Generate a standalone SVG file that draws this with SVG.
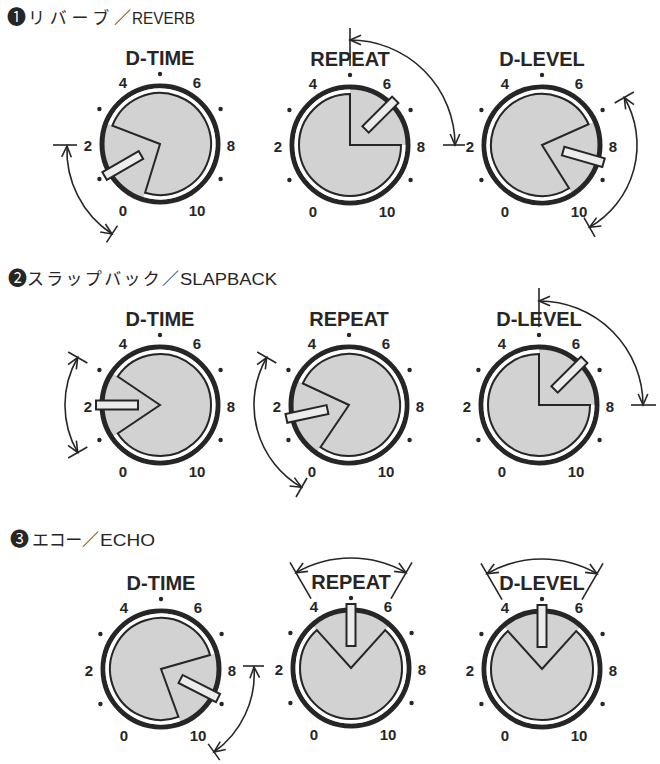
<svg xmlns="http://www.w3.org/2000/svg" width="660" height="764" viewBox="0 0 660 764">
<style>
.ring{fill:#d2d2d2;stroke:#262626;stroke-width:5}
.gap{fill:none;stroke:#fff;stroke-width:3.5}
.cap{fill:#d2d2d2;stroke:#262626;stroke-width:2;stroke-linejoin:miter}
.ptr{fill:#ececec;stroke:#262626;stroke-width:2}
.dot{fill:#262626}
.name{font-family:"Liberation Sans",Arial,sans-serif;font-weight:bold;font-size:20px;text-anchor:middle;fill:#262626}
.num{font-family:"Liberation Sans",Arial,sans-serif;font-weight:bold;font-size:15px;text-anchor:middle;fill:#262626}
.title{font-family:"Liberation Sans",Arial,"Noto Sans CJK JP",sans-serif;font-size:16px;fill:#262626}
.jp{font-family:"Noto Sans CJK JP",sans-serif;font-size:17px}
.circ{font-family:"Noto Sans CJK JP","DejaVu Sans",sans-serif;font-size:19px}
.conn path,.conn line{fill:none;stroke:#262626;stroke-width:1.6}
.conn .arc{marker-start:url(#ah);marker-end:url(#ah)}
</style>
<defs>
<marker id="ah" markerUnits="userSpaceOnUse" markerWidth="16" markerHeight="16" viewBox="-13 -8 16 16" refX="0" refY="0" orient="auto-start-reverse" overflow="visible">
<path d="M-11,-4.8 L0,0 L-11,4.8" fill="none" stroke="#262626" stroke-width="1.6"/>
</marker>
</defs>
<rect width="660" height="764" fill="#fff"/>

<g id="titles">
<text class="title" y="24"><tspan class="circ" x="7">❶</tspan><tspan class="jp" x="28" textLength="103" lengthAdjust="spacing">リバーブ／</tspan><tspan x="132" textLength="63" lengthAdjust="spacingAndGlyphs">REVERB</tspan></text>
<text class="title" y="285"><tspan class="circ" x="8">❷</tspan><tspan class="jp" x="27" textLength="152" lengthAdjust="spacing">スラップバック／</tspan><tspan x="180" textLength="97" lengthAdjust="spacingAndGlyphs">SLAPBACK</tspan></text>
<text class="title" y="546"><tspan class="circ" x="10">❸</tspan><tspan class="jp" x="32" textLength="67" lengthAdjust="spacing">エコー／</tspan><tspan x="100" textLength="55" lengthAdjust="spacingAndGlyphs">ECHO</tspan></text>
</g>

<g id="connectors" class="conn">
<!-- row 1 -->
<line x1="53" y1="145" x2="77" y2="145"/>
<path class="arc" d="M67,146 A100 100 0 0 0 112,234"/>
<line x1="106.5" y1="242.4" x2="117.5" y2="225.6"/>
<line x1="350" y1="28" x2="350" y2="66"/>
<path class="arc" d="M350,40 A105 105 0 0 1 455,145"/>
<line x1="443" y1="145" x2="465" y2="145"/>
<line x1="614.7" y1="103" x2="633.8" y2="92"/>
<path class="arc" d="M624.3,97.5 A95 95 0 0 1 589.5,227.3"/>
<line x1="584" y1="217.7" x2="595" y2="236.8"/>
<!-- row 2 -->
<line x1="87.3" y1="363" x2="68.2" y2="352"/>
<path class="arc" d="M77.7,357.5 A95 95 0 0 0 77.7,452.5"/>
<line x1="87.3" y1="447" x2="68.2" y2="458"/>
<line x1="276.3" y1="363" x2="257.2" y2="352"/>
<path class="arc" d="M266.7,357.5 A95 95 0 0 0 301.5,487.3"/>
<line x1="307" y1="478" x2="296" y2="497"/>
<line x1="539" y1="288" x2="539" y2="327"/>
<path class="arc" d="M539,301 A104 104 0 0 1 643,405"/>
<line x1="631" y1="405" x2="656" y2="405"/>
<!-- row 3 -->
<line x1="243" y1="666" x2="264" y2="666"/>
<path class="arc" d="M254,667 A96 96 0 0 1 214,752"/>
<line x1="208.2" y1="743.9" x2="219.8" y2="760.1"/>
<line x1="311" y1="598.7" x2="290" y2="562.3"/>
<path class="arc" d="M296,572.7 A110 110 0 0 1 406,572.7"/>
<line x1="391" y1="598.7" x2="412" y2="562.3"/>
<line x1="502" y1="599.7" x2="481" y2="563.3"/>
<path class="arc" d="M487,573.7 A110 110 0 0 1 597,573.7"/>
<line x1="582" y1="599.7" x2="603" y2="563.3"/>
</g>

<!-- ROW 1 -->
<g id="r1-dtime" transform="translate(160,144)">
<circle class="ring" r="58"/>
<path class="gap" d="M-50.18,-19.27 A53.75 53.75 0 1 1 -15.72,51.40"/>
<path class="cap" d="M0,0 L-47.61,-18.28 A51 51 0 1 1 -14.91,48.77 Z"/>
<rect class="ptr" x="-4.5" y="-64" width="9" height="42" transform="rotate(-120)"/>
<circle class="dot" cx="0" cy="-70" r="2.2"/><circle class="dot" cx="-60.6" cy="-35" r="2.2"/><circle class="dot" cx="60.6" cy="-35" r="2.2"/><circle class="dot" cx="-60.6" cy="35" r="2.2"/><circle class="dot" cx="60.6" cy="35" r="2.2"/>
<text class="name" x="0" y="-79">D-TIME</text>
<text class="num" x="-37" y="-56">4</text><text class="num" x="37" y="-56">6</text><text class="num" x="-72" y="7">2</text><text class="num" x="71" y="7">8</text><text class="num" x="-37" y="72">0</text><text class="num" x="37" y="72">10</text>
</g>

<g id="r1-repeat" transform="translate(350,145)">
<circle class="ring" r="58"/>
<path class="gap" d="M53.75,0 A53.75 53.75 0 1 1 0,-53.75"/>
<path class="cap" d="M0,0 L51,0 A51 51 0 1 1 0,-51 Z"/>
<rect class="ptr" x="-4.5" y="-64" width="9" height="42" transform="rotate(45)"/>
<circle class="dot" cx="0" cy="-70" r="2.2"/><circle class="dot" cx="-60.6" cy="-35" r="2.2"/><circle class="dot" cx="60.6" cy="-35" r="2.2"/><circle class="dot" cx="-60.6" cy="35" r="2.2"/><circle class="dot" cx="60.6" cy="35" r="2.2"/>
<text class="name" x="0" y="-79">REPEAT</text>
<text class="num" x="-37" y="-56">4</text><text class="num" x="37" y="-56">6</text><text class="num" x="-72" y="7">2</text><text class="num" x="71" y="7">8</text><text class="num" x="-37" y="72">0</text><text class="num" x="37" y="72">10</text>
</g>

<g id="r1-dlevel" transform="translate(542,145)">
<circle class="ring" r="58"/>
<path class="gap" d="M28.49,45.58 A53.75 53.75 0 1 1 49.10,-21.86"/>
<path class="cap" d="M0,0 L27.03,43.25 A51 51 0 1 1 46.59,-20.74 Z"/>
<rect class="ptr" x="-4.5" y="-64" width="9" height="42" transform="rotate(106)"/>
<circle class="dot" cx="0" cy="-70" r="2.2"/><circle class="dot" cx="-60.6" cy="-35" r="2.2"/><circle class="dot" cx="60.6" cy="-35" r="2.2"/><circle class="dot" cx="-60.6" cy="35" r="2.2"/><circle class="dot" cx="60.6" cy="35" r="2.2"/>
<text class="name" x="0" y="-79">D-LEVEL</text>
<text class="num" x="-37" y="-56">4</text><text class="num" x="37" y="-56">6</text><text class="num" x="-72" y="7">2</text><text class="num" x="71" y="7">8</text><text class="num" x="-37" y="72">0</text><text class="num" x="37" y="72">10</text>
</g>

<!-- ROW 2 -->
<g id="r2-dtime" transform="translate(160,405)">
<circle class="ring" r="58"/>
<path class="gap" d="M-44.56,-30.06 A53.75 53.75 0 1 1 -44.56,30.06"/>
<path class="cap" d="M0,0 L-42.28,-28.52 A51 51 0 1 1 -42.28,28.52 Z"/>
<rect class="ptr" x="-4.5" y="-64" width="9" height="42" transform="rotate(-90)"/>
<circle class="dot" cx="0" cy="-70" r="2.2"/><circle class="dot" cx="-60.6" cy="-35" r="2.2"/><circle class="dot" cx="60.6" cy="-35" r="2.2"/><circle class="dot" cx="-60.6" cy="35" r="2.2"/><circle class="dot" cx="60.6" cy="35" r="2.2"/>
<text class="name" x="0" y="-79">D-TIME</text>
<text class="num" x="-37" y="-56">4</text><text class="num" x="37" y="-56">6</text><text class="num" x="-72" y="7">2</text><text class="num" x="71" y="7">8</text><text class="num" x="-37" y="72">0</text><text class="num" x="37" y="72">10</text>
</g>

<g id="r2-repeat" transform="translate(349,405)">
<circle class="ring" r="58"/>
<path class="gap" d="M-48.71,-22.71 A53.75 53.75 0 1 1 -30.06,44.56"/>
<path class="cap" d="M0,0 L-46.22,-21.55 A51 51 0 1 1 -28.52,42.28 Z"/>
<rect class="ptr" x="-4.5" y="-64" width="9" height="42" transform="rotate(-102)"/>
<circle class="dot" cx="0" cy="-70" r="2.2"/><circle class="dot" cx="-60.6" cy="-35" r="2.2"/><circle class="dot" cx="60.6" cy="-35" r="2.2"/><circle class="dot" cx="-60.6" cy="35" r="2.2"/><circle class="dot" cx="60.6" cy="35" r="2.2"/>
<text class="name" x="0" y="-79">REPEAT</text>
<text class="num" x="-37" y="-56">4</text><text class="num" x="37" y="-56">6</text><text class="num" x="-72" y="7">2</text><text class="num" x="71" y="7">8</text><text class="num" x="-37" y="72">0</text><text class="num" x="37" y="72">10</text>
</g>

<g id="r2-dlevel" transform="translate(539,405)">
<circle class="ring" r="58"/>
<path class="gap" d="M53.75,0 A53.75 53.75 0 1 1 0,-53.75"/>
<path class="cap" d="M0,0 L51,0 A51 51 0 1 1 0,-51 Z"/>
<rect class="ptr" x="-4.5" y="-64" width="9" height="42" transform="rotate(45)"/>
<circle class="dot" cx="0" cy="-70" r="2.2"/><circle class="dot" cx="-60.6" cy="-35" r="2.2"/><circle class="dot" cx="60.6" cy="-35" r="2.2"/><circle class="dot" cx="-60.6" cy="35" r="2.2"/><circle class="dot" cx="60.6" cy="35" r="2.2"/>
<text class="name" x="0" y="-79">D-LEVEL</text>
<text class="num" x="-37" y="-56">4</text><text class="num" x="37" y="-56">6</text><text class="num" x="-72" y="7">2</text><text class="num" x="71" y="7">8</text><text class="num" x="-37" y="72">0</text><text class="num" x="37" y="72">10</text>
</g>

<!-- ROW 3 -->
<g id="r3-dtime" transform="translate(161,669)">
<circle class="ring" r="58"/>
<path class="gap" d="M18.38,50.51 A53.75 53.75 0 1 1 51.66,-14.82"/>
<path class="cap" d="M0,0 L17.44,47.92 A51 51 0 1 1 49.02,-14.06 Z"/>
<rect class="ptr" x="-4.5" y="-64" width="9" height="42" transform="rotate(117)"/>
<circle class="dot" cx="0" cy="-70" r="2.2"/><circle class="dot" cx="-60.6" cy="-35" r="2.2"/><circle class="dot" cx="60.6" cy="-35" r="2.2"/><circle class="dot" cx="-60.6" cy="35" r="2.2"/><circle class="dot" cx="60.6" cy="35" r="2.2"/>
<text class="name" x="0" y="-79">D-TIME</text>
<text class="num" x="-37" y="-56">4</text><text class="num" x="37" y="-56">6</text><text class="num" x="-72" y="7">2</text><text class="num" x="71" y="7">8</text><text class="num" x="-37" y="72">0</text><text class="num" x="37" y="72">10</text>
</g>

<g id="r3-repeat" transform="translate(351,668)">
<circle class="ring" r="58"/>
<path class="gap" d="M35.97,-39.94 A53.75 53.75 0 1 1 -35.97,-39.94"/>
<path class="cap" d="M0,0 L34.13,-37.90 A51 51 0 1 1 -34.13,-37.90 Z"/>
<rect class="ptr" x="-4.5" y="-64" width="9" height="42"/>
<circle class="dot" cx="0" cy="-70" r="2.2"/><circle class="dot" cx="-60.6" cy="-35" r="2.2"/><circle class="dot" cx="60.6" cy="-35" r="2.2"/><circle class="dot" cx="-60.6" cy="35" r="2.2"/><circle class="dot" cx="60.6" cy="35" r="2.2"/>
<text class="name" x="0" y="-79">REPEAT</text>
<text class="num" x="-37" y="-56">4</text><text class="num" x="37" y="-56">6</text><text class="num" x="-72" y="7">2</text><text class="num" x="71" y="7">8</text><text class="num" x="-37" y="72">0</text><text class="num" x="37" y="72">10</text>
</g>

<g id="r3-dlevel" transform="translate(542,669)">
<circle class="ring" r="58"/>
<path class="gap" d="M35.97,-39.94 A53.75 53.75 0 1 1 -35.97,-39.94"/>
<path class="cap" d="M0,0 L34.13,-37.90 A51 51 0 1 1 -34.13,-37.90 Z"/>
<rect class="ptr" x="-4.5" y="-64" width="9" height="42"/>
<circle class="dot" cx="0" cy="-70" r="2.2"/><circle class="dot" cx="-60.6" cy="-35" r="2.2"/><circle class="dot" cx="60.6" cy="-35" r="2.2"/><circle class="dot" cx="-60.6" cy="35" r="2.2"/><circle class="dot" cx="60.6" cy="35" r="2.2"/>
<text class="name" x="0" y="-79">D-LEVEL</text>
<text class="num" x="-37" y="-56">4</text><text class="num" x="37" y="-56">6</text><text class="num" x="-72" y="7">2</text><text class="num" x="71" y="7">8</text><text class="num" x="-37" y="72">0</text><text class="num" x="37" y="72">10</text>
</g>
</svg>
